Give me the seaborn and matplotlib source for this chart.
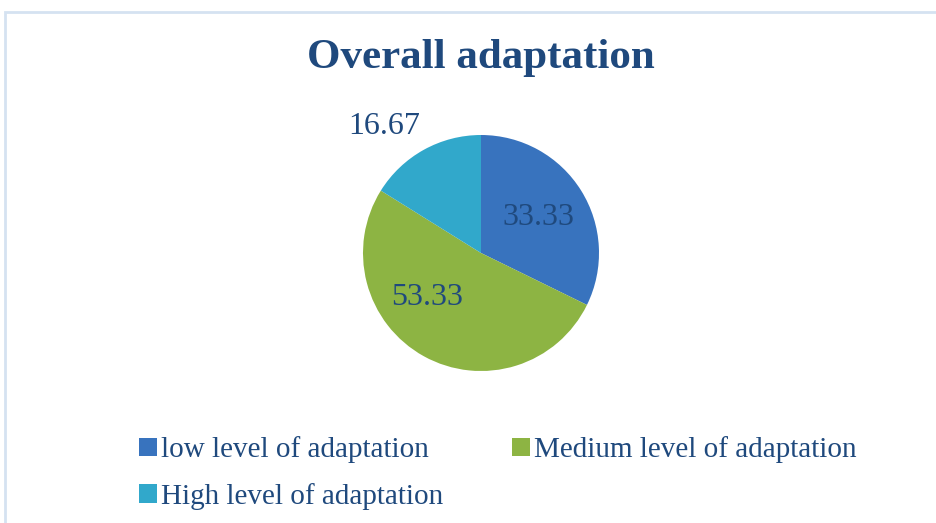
import numpy as np
import seaborn as sns
import matplotlib.pyplot as plt
from matplotlib.patches import Rectangle

# data
categories = ["low level of adaptation", "Medium level of adaptation", "High level of adaptation"]
values = [33.33, 53.33, 16.67]
colors = ["#3873BE", "#8DB443", "#31A8CB"]

sns.set_theme(style="white")
plt.rcParams["font.family"] = ["Liberation Serif", "DejaVu Serif"]
text_color = "#1F497D"

fig = plt.figure(figsize=(9.37, 5.23), dpi=100)
W, H = 937, 523

# light frame around the chart area
fig.patches.append(Rectangle((5 / W, -0.1), 1.1, 1 - 12 / H + 0.1, transform=fig.transFigure,
                             fill=False, edgecolor="#D5E2F1", linewidth=2))

cx, cy, r = 481, 253, 118
ax = fig.add_axes([(cx - r) / W, 1 - (cy + r) / H, 2 * r / W, 2 * r / H])
total = sum(values)
wedges, texts, autotexts = ax.pie(values, colors=colors, startangle=90, counterclock=False,
                                  autopct=lambda p: f"{p * total / 100:.2f}", pctdistance=0.57,
                                  textprops=dict(color=text_color, fontsize=23),
                                  wedgeprops=dict(linewidth=0))
ax.set_xlim(-1, 1)
ax.set_ylim(-1, 1)
ax.set_aspect("equal")
ax.axis("off")

# Excel-style label placement: green label nearer the left, high label outside
autotexts[1].set_position((-0.46, -0.38))
autotexts[2].set_position((-0.82, 1.07))
for t in autotexts:
    t.set_clip_on(False)

fig.text(cx / W, 1 - 58 / H, "Overall adaptation", ha="center", va="center",
         fontsize=31, fontweight="bold", color=text_color)

order = [0, 2, 1]
leg = fig.legend([wedges[i] for i in order], [categories[i] for i in order], ncol=2,
                 loc="upper left", bbox_to_anchor=(113 / W, 1 - 410 / H), frameon=False,
                 fontsize=21, handlelength=0.6, handleheight=0.6, handletextpad=0.15,
                 columnspacing=2.36, labelspacing=0.68, labelcolor=text_color)

fig.savefig("out.png", dpi=100)
